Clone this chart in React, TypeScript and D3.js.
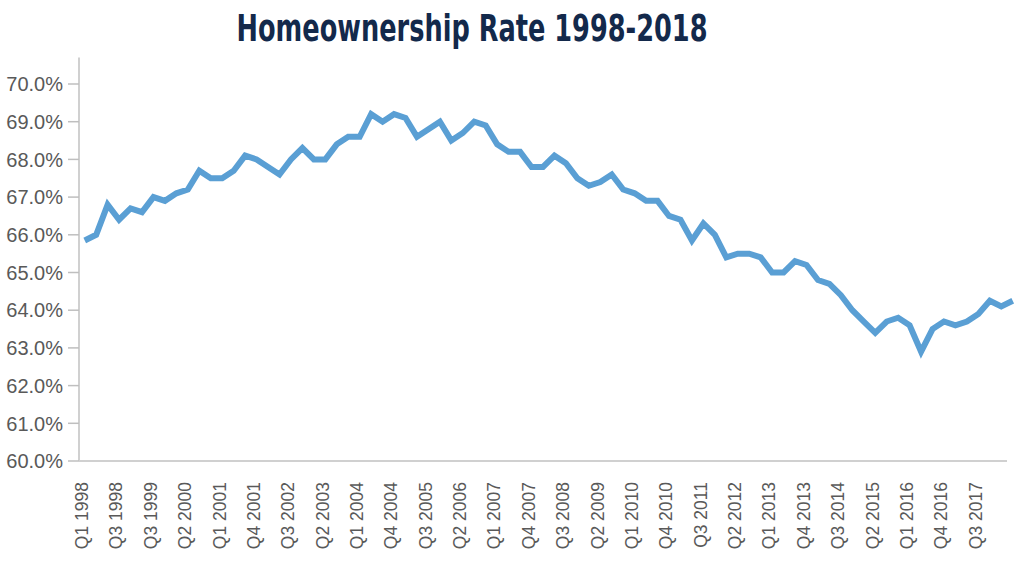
import React from "react";
import * as d3 from "d3";

// Quarterly homeownership rate (%), Q1 1998 onward
const categories: string[] = d3.range(82).map((i) => `Q${(i % 4) + 1} ${1998 + Math.floor(i / 4)}`);

const rateValues: number[] = [
  65.85, 66.0, 66.8, 66.4, 66.7, 66.6, 67.0, 66.9, 67.1, 67.2, 67.7, 67.5,
  67.5, 67.7, 68.1, 68.0, 67.8, 67.6, 68.0, 68.3, 68.0, 68.0, 68.4, 68.6,
  68.6, 69.2, 69.0, 69.2, 69.1, 68.6, 68.8, 69.0, 68.5, 68.7, 69.0, 68.9,
  68.4, 68.2, 68.2, 67.8, 67.8, 68.1, 67.9, 67.5, 67.3, 67.4, 67.6, 67.2,
  67.1, 66.9, 66.9, 66.5, 66.4, 65.85, 66.3, 66.0, 65.4, 65.5, 65.5, 65.4,
  65.0, 65.0, 65.3, 65.2, 64.8, 64.7, 64.4, 64.0, 63.7, 63.4, 63.7, 63.8,
  63.6, 62.9, 63.5, 63.7, 63.6, 63.7, 63.9, 64.25, 64.1, 64.25,
];

const xTickLabels: string[] = [
  "Q1 1998", "Q3 1998", "Q3 1999", "Q2 2000", "Q1 2001", "Q4 2001", "Q3 2002",
  "Q2 2003", "Q1 2004", "Q4 2004", "Q3 2005", "Q2 2006", "Q1 2007", "Q4 2007",
  "Q3 2008", "Q2 2009", "Q1 2010", "Q4 2010", "Q3 2011", "Q2 2012", "Q1 2013",
  "Q4 2013", "Q3 2014", "Q2 2015", "Q1 2016", "Q4 2016", "Q3 2017",
];
const xTickEvery = 3;

const yTicks: number[] = [60, 61, 62, 63, 64, 65, 66, 67, 68, 69, 70];

const TITLE = "Homeownership Rate 1998-2018";

const W = 1021;
const H = 571;
const plotLeft = 79;
const plotRight = 1007;
const plotTop = 84;
const plotBottom = 461;
const visibleBands = 81;

export default function App() {
  const x = d3.scaleLinear().domain([0, visibleBands]).range([plotLeft, plotRight]);
  const y = d3.scaleLinear().domain([60, 70]).range([plotBottom, plotTop]);

  const line = d3
    .line<number>()
    .x((_, i) => x(i + 0.5))
    .y((d) => y(d));

  const axisFont = "'Liberation Sans', Arial, sans-serif";

  return (
    <svg
      width={W}
      height={H}
      style={{ position: "absolute", left: 0, top: 0, background: "#fff" }}
      xmlns="http://www.w3.org/2000/svg"
    >
      <rect x={0} y={0} width={W} height={H} fill="#fff" />
      <text
        x={472}
        y={41}
        textAnchor="middle"
        fontFamily="'Liberation Sans Narrow', 'DejaVu Sans Condensed', 'Liberation Sans', sans-serif"
        fontWeight="bold"
        fontSize={38}
        fill="#13294B"
        textLength={471}
        lengthAdjust="spacingAndGlyphs"
      >
        {TITLE}
      </text>

      {/* y axis */}
      <line x1={x(0)} x2={x(0)} y1={y(70.7)} y2={y(60)} stroke="#D0D0D0" strokeWidth={2} />
      {yTicks.map((t) => (
        <g key={t}>
          <line x1={x(0) - 11} x2={x(0)} y1={y(t)} y2={y(t)} stroke="#BFBFBF" strokeWidth={1.5} />
          <text
            x={63}
            y={y(t)}
            dy="0.36em"
            textAnchor="end"
            fontFamily={axisFont}
            fontSize={20}
            fill="#595959"
          >
            {t.toFixed(1)}%
          </text>
        </g>
      ))}

      {/* x axis */}
      <line x1={x(0)} x2={x(visibleBands)} y1={y(60)} y2={y(60)} stroke="#D0D0D0" strokeWidth={2} />
      {xTickLabels.map((lab, k) => {
        const i = k * xTickEvery;
        return (
          <text
            key={lab + k}
            transform={`translate(${x(i + 0.5) - 3},482) rotate(-90)`}
            dy="0.36em"
            textAnchor="end"
            fontFamily={axisFont}
            fontSize={17.5}
            fill="#595959"
          >
            {lab}
          </text>
        );
      })}

      <path
        d={line(rateValues) || ""}
        fill="none"
        stroke="#5A9FD4"
        strokeWidth={6}
        strokeLinejoin="miter"
        strokeLinecap="butt"
      />
      <title>{categories.join(",")}</title>
    </svg>
  );
}
